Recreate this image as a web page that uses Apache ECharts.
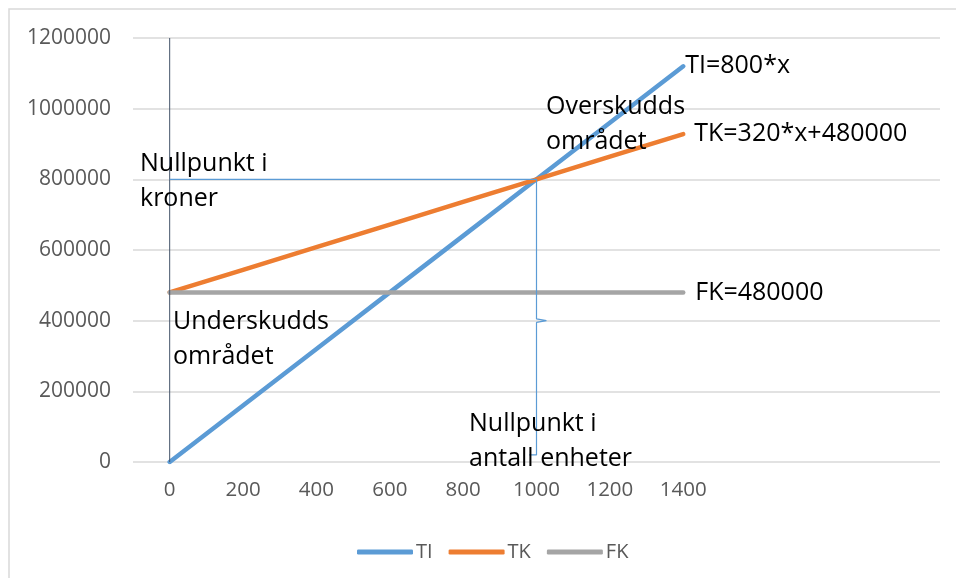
<!DOCTYPE html>
<html>
<head>
<meta charset="utf-8">
<script src="https://cdn.jsdelivr.net/npm/echarts@6/dist/echarts.min.js"></script>
<style>html,body{margin:0;padding:0;background:#fff}#c{width:956px;height:578px}</style>
</head>
<body>
<div id="c"></div>
<script>
var categories = ['0','200','400','600','800','1000','1200','1400','','',''];
var tiValues = [0,160000,320000,480000,640000,800000,960000,1120000];
var tkValues = [480000,544000,608000,672000,736000,800000,864000,928000];
var fkValues = [480000,480000,480000,480000,480000,480000,480000,480000];
var yTicks = {min:0, max:1200000, interval:200000};
var axisGuide = [[0,0],[0,1200000]];
var breakEvenBrace = [[0,800000],[1000,800000],[1000,405000],[1027,400000],[1000,395000],[1000,20000],[980,20000]];
var labels = {TI:'TI=800*x', TK:'TK=320*x+480000', FK:'FK=480000'};
var notes = [
  {text:'Nullpunkt i\nkroner', x:140, y:181.5},
  {text:'Overskudds\nområdet', x:546, y:124.5},
  {text:'Underskudds\nområdet', x:173, y:339.5},
  {text:'Nullpunkt i\nantall enheter', x:469, y:441.5}
];

var FONT = '"Open Sans", "Noto Sans", sans-serif';
var chart = echarts.init(document.getElementById('c'), null, {renderer:'canvas'});

function mainLine(name, data, color, dist) {
  return {
    name: name, type: 'line', data: data, xAxisIndex: 0, yAxisIndex: 0,
    symbol: 'none', silent: true,
    lineStyle: {color: color, width: 4.5, cap: 'round', join: 'round'},
    itemStyle: {color: color},
    endLabel: {show: true, formatter: labels[name], distance: dist,
      color: '#000', fontSize: 25, fontFamily: FONT},
    labelLayout: {hideOverlap: false},
    animation: false
  };
}

chart.setOption({
  animation: false,
  grid: {left: 133, right: 16, top: 38, bottom: 116, containLabel: false},
  xAxis: [{
    type: 'category', data: categories, boundaryGap: true,
    axisLine: {show: false}, axisTick: {show: false},
    axisLabel: {color: '#595959', fontSize: 20.5, fontFamily: FONT, margin: 18, interval: 0},
    splitLine: {show: false}
  }, {
    type: 'value', min: -100, max: 2100, show: false,
    splitLine: {show: false}
  }],
  yAxis: {
    type: 'value', min: yTicks.min, max: yTicks.max, interval: yTicks.interval,
    axisLine: {show: false}, axisTick: {show: false},
    axisLabel: {color: '#595959', fontSize: 21, fontFamily: FONT, margin: 22,
      formatter: function (v) { return String(v); }},
    splitLine: {lineStyle: {color: '#d9d9d9', width: 1.5}}
  },
  legend: {
    data: ['TI','TK','FK'], left: 352, top: 537, orient: 'horizontal',
    icon: 'roundRect',
    itemWidth: 56, itemHeight: 5, itemGap: 16,
    textStyle: {color: '#595959', fontSize: 20, fontFamily: FONT, padding: [0,0,0,-2]},
    selectedMode: false
  },
  series: [
    mainLine('TI', tiValues, '#5b9bd5', 2),
    mainLine('TK', tkValues, '#ed7d31', 11),
    mainLine('FK', fkValues, '#a5a5a5', 12),
    {
      name: 'guide0', type: 'line', xAxisIndex: 1, yAxisIndex: 0,
      data: axisGuide, symbol: 'none', silent: true,
      lineStyle: {color: '#44546a', width: 1}, z: 5
    },
    {
      name: 'brace', type: 'line', xAxisIndex: 1, yAxisIndex: 0,
      data: breakEvenBrace, symbol: 'none', silent: true,
      lineStyle: {color: '#5b9bd5', width: 1.2}, z: 5
    }
  ],
  graphic: [{
    type: 'rect', silent: true, z: -1,
    shape: {x: 9, y: 9, width: 1000, height: 700},
    style: {fill: 'none', stroke: '#d9d9d9', lineWidth: 1.5}
  }].concat(notes.map(function (n) {
    return {
      type: 'text', silent: true, x: n.x, y: n.y, z: 10,
      style: {text: n.text, fill: '#000', font: '25px ' + FONT,
        lineHeight: 35, verticalAlign: 'middle', align: 'left'}
    };
  }))
});
</script>
</body>
</html>
